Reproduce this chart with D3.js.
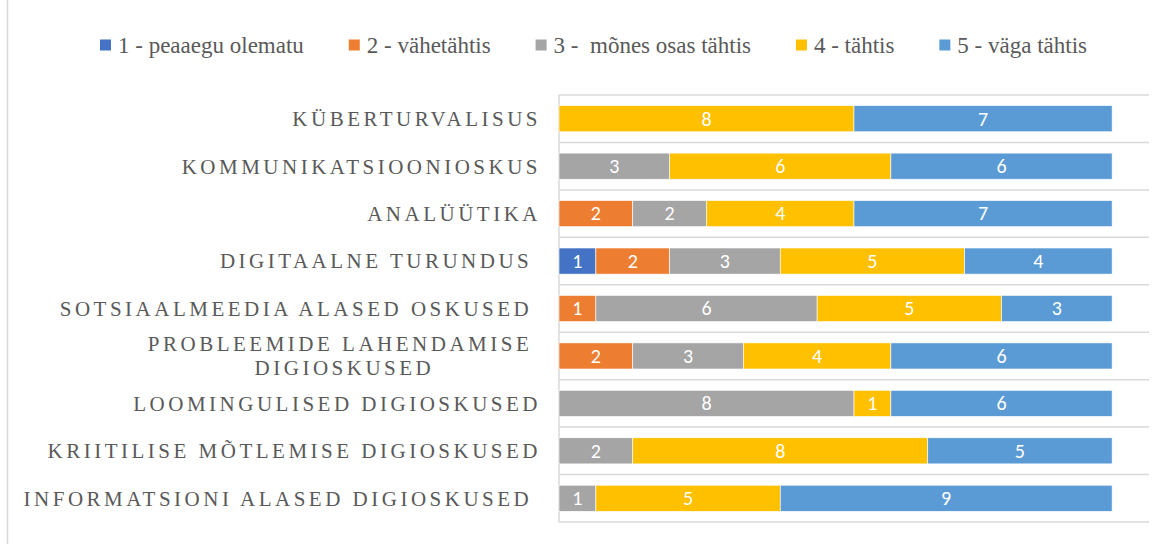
<!DOCTYPE html>
<html>
<head>
<meta charset="utf-8">
<script src="https://cdn.jsdelivr.net/npm/d3@7"></script>
<style>
  html, body { margin: 0; padding: 0; background: #fff; }
  svg { display: block; }
  text { white-space: pre; }
  .serif { font-family: "Liberation Serif", "Tinos", "Times New Roman", serif; }
  .lab { font-family: "Carlito", "Open Sans", sans-serif; }
</style>
</head>
<body>
<svg id="chart" width="1174" height="544"></svg>
<script>
// ---- Data ----
const categories = [
  "KÜBERTURVALISUS",
  "KOMMUNIKATSIOONIOSKUS",
  "ANALÜÜTIKA",
  "DIGITAALNE TURUNDUS ",
  "SOTSIAALMEEDIA ALASED OSKUSED ",
  "PROBLEEMIDE LAHENDAMISE |DIGIOSKUSED",
  "LOOMINGULISED DIGIOSKUSED",
  "KRIITILISE MÕTLEMISE DIGIOSKUSED",
  "INFORMATSIONI ALASED DIGIOSKUSED "
];
const seriesNames = [
  "1 - peaaegu olematu",
  "2 - vähetähtis",
  "3 -  mõnes osas tähtis",
  "4 - tähtis",
  "5 - väga tähtis"
];
const s1 = [0, 0, 0, 1, 0, 0, 0, 0, 0];
const s2 = [0, 0, 2, 2, 1, 2, 0, 0, 0];
const s3 = [0, 3, 2, 3, 6, 3, 8, 2, 1];
const s4 = [8, 6, 4, 5, 5, 4, 1, 8, 5];
const s5 = [7, 6, 7, 4, 3, 6, 6, 5, 9];
const seriesValues = [s1, s2, s3, s4, s5];
const colors = ["#4472C4", "#ED7D31", "#A5A5A5", "#FFC000", "#5B9BD5"];
const axisMax = 16;

// ---- Layout ----
const svg = d3.select("#chart");
const plot = { left: 559, right: 1149, top: 95, bottom: 522 };

const rows = categories.map((c, i) => {
  const r = { cat: c };
  seriesNames.forEach((s, j) => r[s] = seriesValues[j][i]);
  return r;
});

const x = d3.scaleLinear().domain([0, axisMax]).range([plot.left, plot.right]);
const y = d3.scaleBand().domain(categories).range([plot.top, plot.bottom])
  .paddingInner(0.45).paddingOuter(0.225);

const stack = d3.stack().keys(seriesNames)(rows);

// chart-area left border
svg.append("line").attr("x1", 7.5).attr("x2", 7.5).attr("y1", 0).attr("y2", 544)
  .attr("stroke", "#d9d9d9").attr("stroke-width", 1.5);

// gridlines between categories
const step = y.step();
const gridYs = d3.range(categories.length + 1).map(i => plot.top + i * step);
svg.append("g").selectAll("line").data(gridYs).join("line")
  .attr("x1", plot.left).attr("x2", plot.right)
  .attr("y1", d => d).attr("y2", d => d)
  .attr("stroke", "#d9d9d9").attr("stroke-width", 1.5);

// vertical category axis line
svg.append("line").attr("x1", plot.left).attr("x2", plot.left)
  .attr("y1", plot.top).attr("y2", plot.bottom)
  .attr("stroke", "#d9d9d9").attr("stroke-width", 1.5);

// bars
const g = svg.append("g");
stack.forEach((layer, j) => {
  const lg = g.append("g").attr("fill", colors[j]);
  layer.forEach((d, i) => {
    const v = d[1] - d[0];
    if (v <= 0) return;
    lg.append("rect")
      .attr("x", x(d[0]))
      .attr("y", y(categories[i]))
      .attr("width", x(d[1]) - x(d[0]))
      .attr("height", y.bandwidth())
      .attr("stroke", "#fff").attr("stroke-width", 0.6);
    lg.append("text")
      .attr("class", "lab")
      .attr("x", (x(d[0]) + x(d[1])) / 2)
      .attr("y", y(categories[i]) + y.bandwidth() / 2)
      .attr("dy", "0.34em")
      .attr("text-anchor", "middle")
      .attr("fill", "#fff")
      .style("font-size", "20px")
      .text(v);
  });
});

// category labels
const labG = svg.append("g")
  .attr("class", "serif")
  .style("font-size", "21px")
  .style("letter-spacing", "3.5px")
  .attr("fill", "#595959");
categories.forEach(c => {
  const lines = c.split("|");
  const cy = y(c) + y.bandwidth() / 2;
  const lh = 24;
  const t = labG.append("text")
    .attr("text-anchor", lines.length > 1 ? "middle" : "end");
  if (lines.length === 1) {
    t.attr("x", 541).attr("y", cy).attr("dy", "0.35em").text(lines[0]);
  } else {
    const tmp = labG.append("text").text(lines[0]);
    const w = tmp.node().getComputedTextLength();
    tmp.remove();
    const cx = 541 - w / 2;
    lines.forEach((ln, k) => {
      t.append("tspan").attr("x", cx)
        .attr("y", cy + (k - (lines.length - 1) / 2) * lh)
        .attr("dy", "0.35em").text(ln);
    });
  }
});

// legend
const leg = svg.append("g")
  .attr("class", "serif")
  .style("font-size", "23px")
  .attr("fill", "#595959");
const sq = 11, sqGap = 7;
const legLeft = 100, legRight = 1087;
const items = seriesNames.map((n, j) => {
  const it = leg.append("g");
  it.append("rect").attr("width", sq).attr("height", sq).attr("y", 39.5).attr("fill", colors[j]);
  const tx = it.append("text").attr("x", sq + sqGap).attr("y", 52.5).text(n);
  return { g: it, w: sq + sqGap + tx.node().getComputedTextLength() };
});
const itemGap = Math.max(20, (legRight - legLeft - d3.sum(items, d => d.w)) / (items.length - 1));
const total = d3.sum(items, d => d.w) + itemGap * (items.length - 1);
let cursor = (legLeft + legRight) / 2 - total / 2;
items.forEach(it => {
  it.g.attr("transform", `translate(${cursor},0)`);
  cursor += it.w + itemGap;
});
</script>
</body>
</html>
